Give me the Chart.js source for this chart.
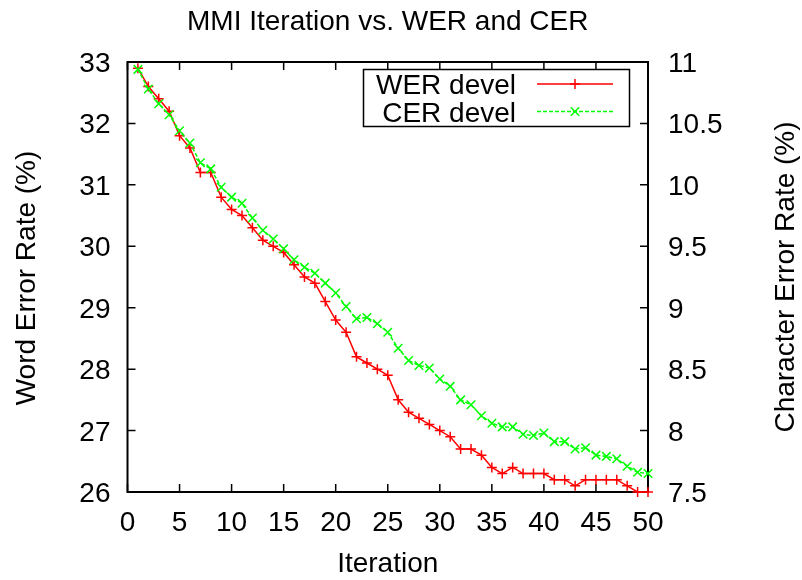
<!DOCTYPE html>
<html>
<head>
<meta charset="utf-8">
<title>MMI Iteration vs. WER and CER</title>
<script src="https://cdn.jsdelivr.net/npm/chart.js@4.4.1/dist/chart.umd.min.js"></script>
<style>
  html, body { margin: 0; padding: 0; background: #fff; }
  #wrap { width: 802px; height: 580px; }
</style>
</head>
<body>
<div id="wrap"><canvas id="chart" width="802" height="580"></canvas></div>
<script>
// MMI training iterations and dev-set error rates
const iterations = [1, 2, 3, 4, 5, 6, 7, 8, 9, 10,
    11, 12, 13, 14, 15, 16, 17, 18, 19, 20,
    21, 22, 23, 24, 25, 26, 27, 28, 29, 30,
    31, 32, 33, 34, 35, 36, 37, 38, 39, 40,
    41, 42, 43, 44, 45, 46, 47, 48, 49, 50];

const werDevel = [32.9, 32.6, 32.4, 32.2, 31.8, 31.6, 31.2, 31.2, 30.8, 30.6,
    30.5, 30.3, 30.1, 30.0, 29.9, 29.7, 29.5, 29.4, 29.1, 28.8,
    28.6, 28.2, 28.1, 28.0, 27.9, 27.5, 27.3, 27.2, 27.1, 27.0,
    26.9, 26.7, 26.7, 26.6, 26.4, 26.3, 26.4, 26.3, 26.3, 26.3,
    26.2, 26.2, 26.1, 26.2, 26.2, 26.2, 26.2, 26.1, 26.0, 26.0];

const cerDevel = [10.94, 10.78, 10.66, 10.57, 10.44, 10.34, 10.18, 10.13, 9.98, 9.90,
    9.85, 9.73, 9.63, 9.56, 9.48, 9.39, 9.33, 9.28, 9.20, 9.12,
    9.01, 8.91, 8.92, 8.87, 8.80, 8.67, 8.57, 8.53, 8.51, 8.42,
    8.36, 8.25, 8.21, 8.12, 8.06, 8.03, 8.03, 7.97, 7.96, 7.98,
    7.91, 7.91, 7.85, 7.86, 7.80, 7.79, 7.77, 7.71, 7.66, 7.65];

// tick labels
const iterTicks = [0, 5, 10, 15, 20, 25, 30, 35, 40, 45, 50];
const werTicks = [26, 27, 28, 29, 30, 31, 32, 33];
const cerTicks = [7.5, 8, 8.5, 9, 9.5, 10, 10.5, 11];

const FONT = '28px "Liberation Sans", Arial, sans-serif';
const TICK = 8;

function drawMarker(ctx, style, r, x, y) {
    ctx.beginPath();
    if (style === 'cross') {
        ctx.moveTo(x - r, y); ctx.lineTo(x + r, y);
        ctx.moveTo(x, y - r); ctx.lineTo(x, y + r);
    } else {
        const d = r * Math.SQRT1_2;
        ctx.moveTo(x - d, y - d); ctx.lineTo(x + d, y + d);
        ctx.moveTo(x - d, y + d); ctx.lineTo(x + d, y - d);
    }
    ctx.stroke();
}

// gnuplot-style border: inward ticks on all sides, labels and titles
const frame = {
    id: 'frame',
    beforeDatasetsDraw(chart) {
        const { ctx, chartArea: a, scales } = chart;
        ctx.save();
        ctx.strokeStyle = '#000';
        ctx.lineWidth = 1.5;
        ctx.beginPath();
        iterTicks.forEach(v => {
            const x = scales.x.getPixelForValue(v);
            ctx.moveTo(x, a.bottom); ctx.lineTo(x, a.bottom - TICK);
            ctx.moveTo(x, a.top); ctx.lineTo(x, a.top + TICK);
        });
        werTicks.forEach(v => {
            const y = scales.y.getPixelForValue(v);
            ctx.moveTo(a.left, y); ctx.lineTo(a.left + TICK, y);
        });
        cerTicks.forEach(v => {
            const y = scales.y2.getPixelForValue(v);
            ctx.moveTo(a.right, y); ctx.lineTo(a.right - TICK, y);
        });
        ctx.stroke();
        ctx.lineWidth = 2;
        ctx.strokeRect(a.left, a.top, a.right - a.left, a.bottom - a.top);

        ctx.fillStyle = '#000';
        ctx.font = FONT;
        ctx.textBaseline = 'alphabetic';

        ctx.textAlign = 'center';
        iterTicks.forEach(v => ctx.fillText(String(v), scales.x.getPixelForValue(v), a.bottom + 39));
        ctx.textAlign = 'right';
        werTicks.forEach(v => ctx.fillText(String(v), a.left - 17, scales.y.getPixelForValue(v) + 10));
        ctx.textAlign = 'left';
        cerTicks.forEach(v => ctx.fillText(String(v), a.right + 20, scales.y2.getPixelForValue(v) + 10));

        const cx = (a.left + a.right) / 2;
        ctx.textAlign = 'center';
        ctx.fillText('MMI Iteration vs. WER and CER', cx, 30);
        ctx.fillText('Iteration', cx, 572);

        ctx.save();
        ctx.translate(35, 278);
        ctx.rotate(-Math.PI / 2);
        ctx.fillText('Word Error Rate (%)', 0, 0);
        ctx.restore();

        ctx.save();
        ctx.translate(794, 277);
        ctx.rotate(-Math.PI / 2);
        ctx.fillText('Character Error Rate (%)', 0, 0);
        ctx.restore();
        ctx.restore();
    },
    afterDatasetsDraw(chart) {
        const { ctx } = chart;
        ctx.save();
        ctx.strokeStyle = '#000';
        ctx.lineWidth = 1.5;
        ctx.strokeRect(363.5, 69.5, 266, 57);
        ctx.font = FONT;
        ctx.fillStyle = '#000';
        ctx.textAlign = 'right';
        ctx.textBaseline = 'alphabetic';
        chart.data.datasets.forEach((ds, i) => {
            const y = 84 + i * 27.5;
            ctx.fillText(ds.label, 516, y + 10);
            ctx.strokeStyle = ds.borderColor;
            ctx.lineWidth = ds.borderWidth;
            ctx.setLineDash(ds.borderDash || []);
            ctx.beginPath();
            ctx.moveTo(537, y); ctx.lineTo(613, y);
            ctx.stroke();
            ctx.setLineDash([]);
            drawMarker(ctx, ds.pointStyle, ds.pointRadius, 575, y);
        });
        ctx.restore();
    }
};

new Chart(document.getElementById('chart'), {
    type: 'line',
    data: {
        datasets: [{
            label: 'WER devel',
            data: iterations.map((it, i) => ({ x: it, y: werDevel[i] })),
            yAxisID: 'y',
            borderColor: '#ff0000',
            backgroundColor: '#ff0000',
            borderWidth: 1.5,
            pointStyle: 'cross',
            pointRadius: 5,
            pointBorderWidth: 1.5,
            pointBorderColor: '#ff0000',
            tension: 0,
            clip: false,
            order: 1
        }, {
            label: 'CER devel',
            data: iterations.map((it, i) => ({ x: it, y: cerDevel[i] })),
            yAxisID: 'y2',
            borderColor: '#00ff00',
            backgroundColor: '#00ff00',
            borderWidth: 1.5,
            borderDash: [4, 2],
            pointStyle: 'crossRot',
            pointRadius: 6,
            pointBorderWidth: 1.5,
            pointBorderColor: '#00ff00',
            tension: 0,
            clip: false,
            order: 0
        }]
    },
    options: {
        responsive: false,
        devicePixelRatio: 1,
        animation: false,
        layout: {
            padding: { left: 127.5, right: 154, top: 62, bottom: 88 }
        },
        scales: {
            x: { type: 'linear', min: 0, max: 50, display: false },
            y: { type: 'linear', position: 'left', min: 26, max: 33, display: false },
            y2: { type: 'linear', position: 'right', min: 7.5, max: 11, display: false }
        },
        plugins: {
            legend: { display: false },
            tooltip: { enabled: false },
            title: { display: false }
        }
    },
    plugins: [frame]
});
</script>
</body>
</html>
